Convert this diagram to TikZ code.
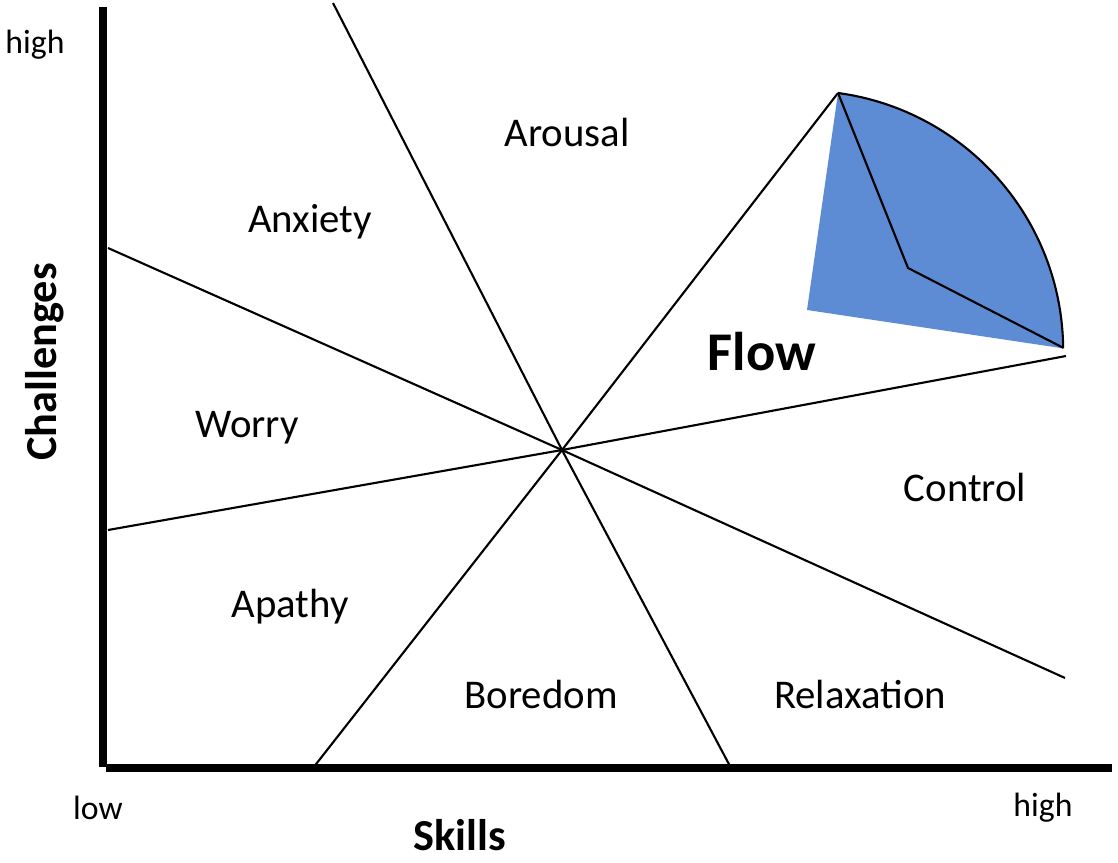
\documentclass[tikz,border=0pt]{standalone}
\usepackage{fontspec}
\setmainfont{Carlito}
\usetikzlibrary{calc,positioning}
\definecolor{flowblue}{RGB}{93,139,212}

\begin{document}
\begin{tikzpicture}[
  region/.style={font=\fontsize{29}{34}\selectfont},
  endlabel/.style={font=\fontsize{24}{28}\selectfont},
  axistitle/.style={font=\bfseries\fontsize{31.5}{36}\selectfont},
  divider/.style={line width=1.5pt},
  axisline/.style={line width=5pt}]
  \useasboundingbox (0,0) rectangle (27.95,21.55);
  % axes
  \draw[axisline] (2.575,21.375) -- (2.575,2.375);
  \draw[axisline] (2.65,2.35) -- (27.8,2.35);
  % the four dividing lines through the centre
  \coordinate (O) at (14.05,10.3);
  \coordinate (a1) at (8.325,21.475);
  \coordinate (a2) at (18.275,2.35);
  \coordinate (b1) at (2.7,15.35);
  \coordinate (b2) at (26.625,4.6);
  \coordinate (c1) at (2.7,8.3);
  \coordinate (c2) at (26.65,12.65);
  \coordinate (d1) at (7.825,2.35);
  \coordinate (d2) at (20.95,19.225);
  \draw[divider] (a1) -- (O) -- (a2);
  \draw[divider] (b1) -- (O) -- (b2);
  \draw[divider] (c1) -- (O) -- (c2);
  \draw[divider] (d1) -- (O) -- (d2);
  % flow wedge
  \coordinate (wedgeend) at (26.575,12.857);
  \coordinate (wedgeleft) at (20.175,13.8);
  \coordinate (wedgejoint) at (22.7,14.85);
  \fill[flowblue] (d2) arc[start angle=82.3, end angle=0.5, radius=6.5]
    -- (wedgeleft) -- cycle;
  \draw[divider] (d2) arc[start angle=82.3, end angle=0.5, radius=6.5];
  \draw[divider] (d2) -- (wedgejoint) -- (wedgeend);
  % region labels
  \node[region] (arousal) at (14.175,18.25) {Arousal};
  \node[region] (anxiety) at (7.75,16.0) {Anxiety};
  \node[region] (worry) at (6.175,10.85) {Worry};
  \node[region] (apathy) at (7.25,6.375) {Apathy};
  \node[region] (boredom) at (13.525,4.2) {Boredom};
  \node[region] (relaxation) at (21.5,4.2) {Relaxation};
  \node[region] (control) at (24.125,9.375) {Control};
  \node[font=\bfseries\fontsize{38.8}{44}\selectfont] (flow) at (19.05,12.75) {Flow};
  % axis labels
  \node[endlabel] (chigh) at (0.875,20.425) {high};
  \node[endlabel] (slow) at (2.45,1.35) {low};
  \node[endlabel] (shigh) at (26.075,1.35) {high};
  \node[axistitle, rotate=90] (challenges) at (1.125,12.5) {Challenges};
  \node[axistitle, inner sep=1pt] (skills) at (11.5,0.68) {Skills};
\end{tikzpicture}
\end{document}
